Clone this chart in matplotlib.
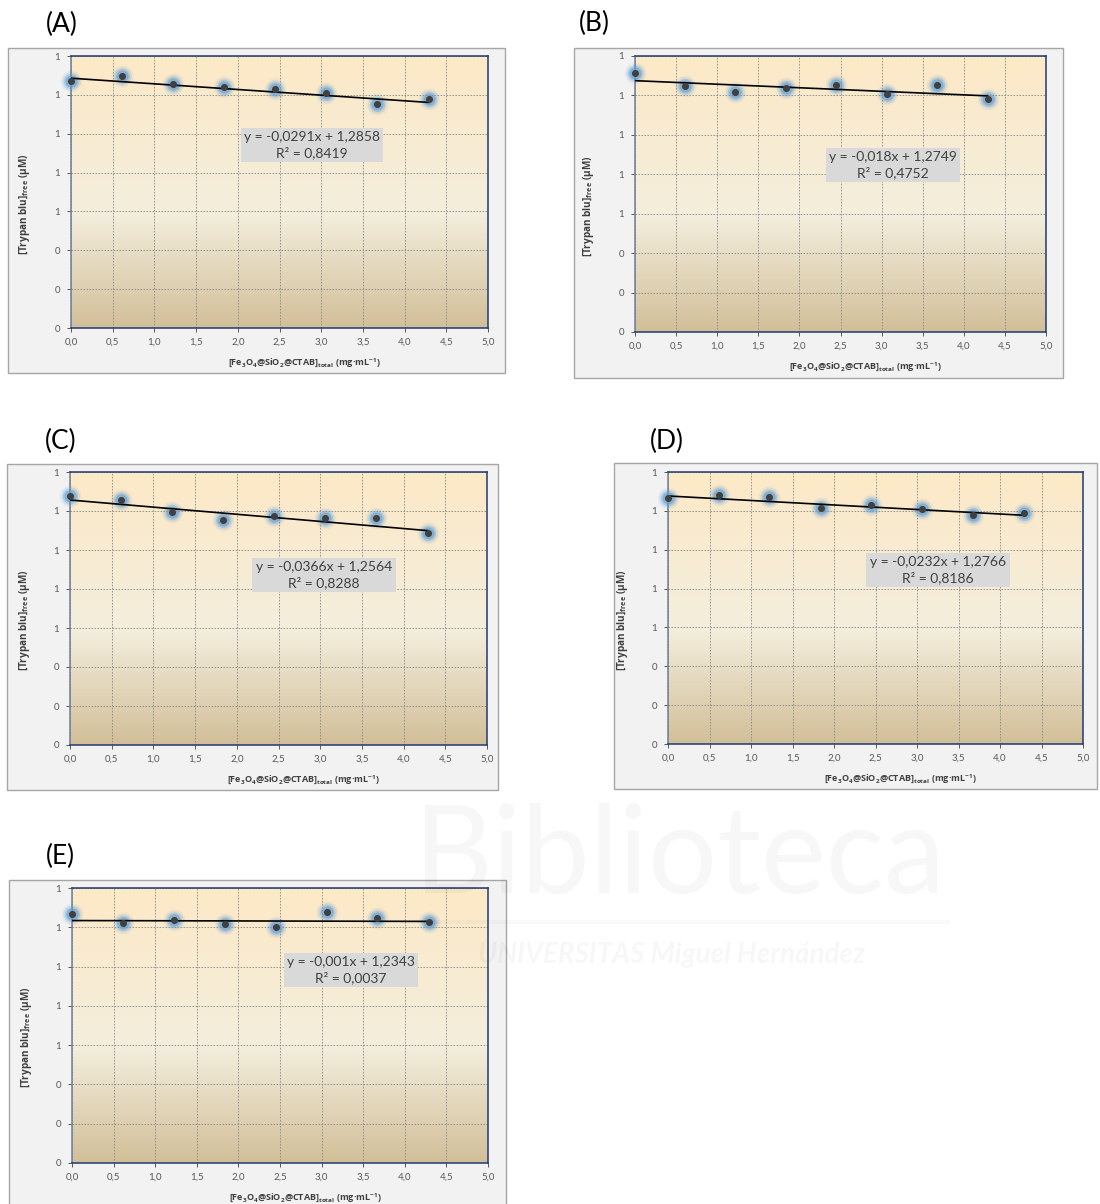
import numpy as np
import matplotlib
matplotlib.use("Agg")
import matplotlib.pyplot as plt
from matplotlib.patches import Rectangle
from matplotlib.colors import LinearSegmentedColormap

plt.rcParams['font.family'] = ['Lato', 'DejaVu Sans']
plt.rcParams['mathtext.fontset'] = 'custom'
plt.rcParams['mathtext.rm'] = 'Open Sans:bold'
plt.rcParams['mathtext.bf'] = 'Open Sans:bold'
plt.rcParams['mathtext.it'] = 'Open Sans:bold'

# ---------------- data ----------------
panel_labels = ["(A)", "(B)", "(C)", "(D)", "(E)"]
x_conc = [0.0, 0.61, 1.22, 1.84, 2.45, 3.06, 3.67, 4.29]

y_A = [1.271, 1.299, 1.256, 1.242, 1.228, 1.211, 1.151, 1.179]
y_B = [1.316, 1.248, 1.219, 1.239, 1.251, 1.206, 1.251, 1.184]
y_C = [1.279, 1.255, 1.195, 1.154, 1.176, 1.164, 1.164, 1.087]
y_D = [1.265, 1.282, 1.272, 1.215, 1.232, 1.212, 1.181, 1.191]
y_E = [1.268, 1.224, 1.235, 1.215, 1.203, 1.276, 1.249, 1.227]
series = [y_A, y_B, y_C, y_D, y_E]

slopes = [-0.0291, -0.018, -0.0366, -0.0232, -0.001]
intercepts = [1.2858, 1.2749, 1.2564, 1.2766, 1.2343]
r2 = [0.8419, 0.4752, 0.8288, 0.8186, 0.0037]

x_ticks = [0.0, 0.5, 1.0, 1.5, 2.0, 2.5, 3.0, 3.5, 4.0, 4.5, 5.0]
y_ticks = [0.0, 0.2, 0.4, 0.6, 0.8, 1.0, 1.2, 1.4]

x_label = r"[Fe$\mathbf{_3}$O$\mathbf{_4}$@SiO$\mathbf{_2}$@CTAB]$\mathbf{_{total}}$ (mg·mL$\mathbf{^{-1}}$)"
y_label = r"[Trypan blu]$\mathbf{_{free}}$ (µM)"

# ---------------- layout (pixels) ----------------
W, H = 1100, 1204
layout = [
    dict(box=(8, 48, 505, 373), plot=(71, 56, 488, 328), lab=(62, 24), eq=(312, 145)),
    dict(box=(574, 48, 1063, 378), plot=(635, 56, 1046, 332), lab=(594, 23), eq=(893, 165)),
    dict(box=(7, 464, 498, 790), plot=(70, 472, 487, 745), lab=(61, 441), eq=(324, 575)),
    dict(box=(614, 463, 1097, 789), plot=(668, 472, 1083, 744), lab=(667, 441), eq=(938, 570)),
    dict(box=(9, 880, 506, 1210), plot=(72, 888, 488, 1163), lab=(60, 856), eq=(351, 970)),
]

fig = plt.figure(figsize=(W / 100, H / 100), dpi=100)
fig.patch.set_facecolor("white")

def fx(px):
    return px / W

def fy(py):
    return 1 - py / H

grad = LinearSegmentedColormap.from_list(
    "bg", [(0.0, "#FDE9C7"), (0.58, "#F3EEDD"), (1.0, "#D2BF99")])

for i in range(5):
    L = layout[i]
    bx0, by0, bx1, by1 = L["box"]
    fig.add_artist(Rectangle((fx(bx0), fy(by1)), fx(bx1 - bx0), (by1 - by0) / H,
                             transform=fig.transFigure, facecolor="#F2F2F2",
                             edgecolor="#A6A6A6", lw=1.0, zorder=0))
    px0, py0, px1, py1 = L["plot"]
    ax = fig.add_axes([fx(px0), fy(py1), fx(px1 - px0), (py1 - py0) / H])
    ax.set_zorder(1)
    ax.set_facecolor("none")
    g = np.linspace(0, 1, 256).reshape(-1, 1)
    ax.imshow(g, cmap=grad, aspect="auto", extent=(0, 1, 0, 1),
              transform=ax.transAxes, zorder=0, interpolation="bilinear")
    ax.set_xlim(0, 5)
    ax.set_ylim(0, 1.4)
    ax.set_xticks(x_ticks)
    ax.set_yticks(y_ticks)
    ax.set_xticklabels([f"{v:.1f}".replace(".", ",") for v in x_ticks])
    ax.set_yticklabels([f"{v:.0f}" for v in y_ticks])
    ax.tick_params(axis="both", labelsize=7, colors="#595959", length=3,
                   direction="out", width=0.7)
    ax.tick_params(axis="x", pad=4)
    ax.tick_params(axis="y", pad=5)
    ax.grid(True, color="#8C8C8C", linestyle=(0, (2.0, 1.6)), lw=0.6, zorder=0.5)
    ax.set_axisbelow(True)
    for s in ["top", "right", "bottom"]:
        ax.spines[s].set_color("#1F3A6E")
        ax.spines[s].set_linewidth(1.1)
    ax.spines["left"].set_color("#6F7F98")
    ax.spines["left"].set_linewidth(1.1)

    xs = np.array(x_conc)
    ys = np.array(series[i])
    # glow
    for s_, a_ in [(250, 0.08), (180, 0.16), (120, 0.3), (75, 0.5)]:
        ax.scatter(xs, ys, s=s_, color="#5B9BD5", alpha=a_, linewidths=0,
                   zorder=3, clip_on=False)
    # trend line
    xl = np.array([xs.min(), xs.max()])
    ax.plot(xl, slopes[i] * xl + intercepts[i], color="black", lw=1.2, zorder=4)
    ax.scatter(xs, ys, s=26, color="#404040", linewidths=0, zorder=5, clip_on=False)

    eq = (f"y = {str(slopes[i]).replace('.', ',')}x + {str(intercepts[i]).replace('.', ',')}\n"
          f"R² = {str(r2[i]).replace('.', ',')}")
    ex, ey = L["eq"]
    fig.text(fx(ex), fy(ey), eq, ha="center", va="center", fontsize=10,
             color="#404040", linespacing=1.25, zorder=6,
             bbox=dict(boxstyle="square,pad=0.25", facecolor="#D9D9D9", edgecolor="none"))

    lx, ly = L["lab"]
    fig.text(fx(lx), fy(ly), panel_labels[i], ha="center", va="center", fontsize=19,
             color="black")

    fig.text(fx((px0 + px1) / 2 + 25), fy(py1 + 35), x_label, ha="center", va="center",
             fontsize=6.5, fontweight="bold", color="#404040", family="Open Sans")
    fig.text(fx(px0 - 46), fy((py0 + py1) / 2 + 12), y_label, ha="center", va="center",
             fontsize=7.2, fontweight="bold", color="#404040", rotation=90, family="Open Sans")

# faint watermark
fig.text(fx(680), fy(858), "Biblioteca", ha="center", va="center", fontsize=88,
         color="black", alpha=0.03, zorder=10)
fig.add_artist(Rectangle((fx(400), fy(924)), fx(550), 4 / H, transform=fig.transFigure,
                         facecolor="black", alpha=0.025, edgecolor="none", zorder=10))
fig.text(fx(672), fy(955), "UNIVERSITAS Miguel Hernández", ha="center", va="center",
         fontsize=20, fontweight="bold", style="italic", color="black", alpha=0.03, zorder=10)

fig.savefig("out.png", dpi=100)
